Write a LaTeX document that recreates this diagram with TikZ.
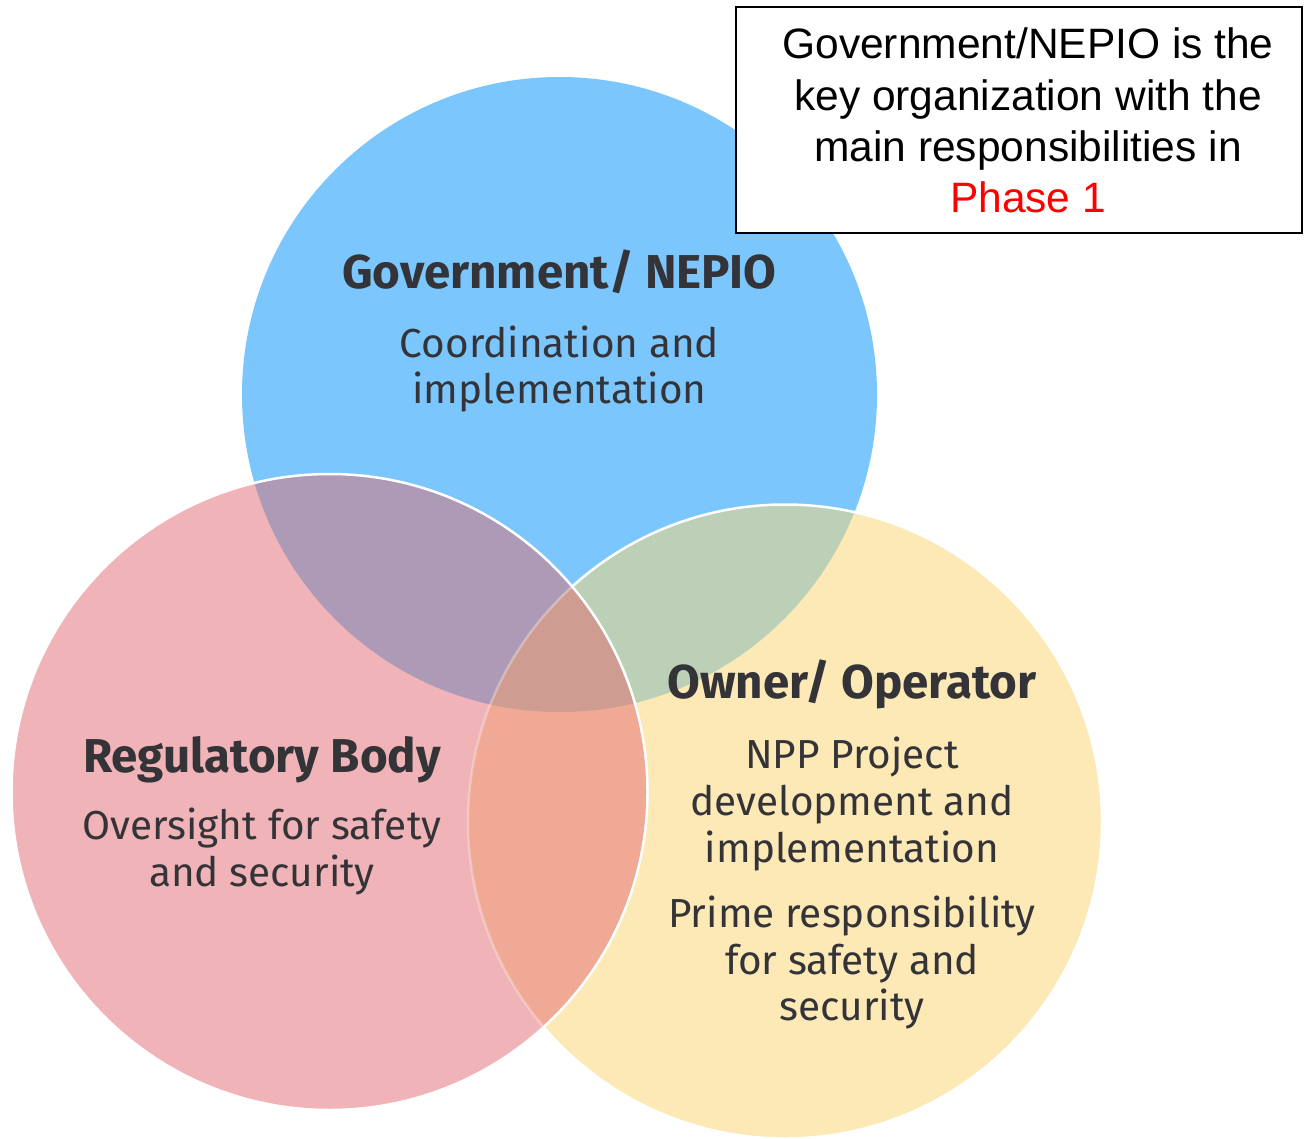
\documentclass[tikz,border=0pt]{standalone}
\usepackage{fontspec}
\setmainfont{Fira Sans}
\newfontfamily\arialf{Liberation Sans}
\definecolor{cblue}{HTML}{7BC6FD}
\definecolor{cpink}{HTML}{F0B4B8}
\definecolor{cyel}{HTML}{FDE9B5}
\definecolor{cpurp}{HTML}{AC9AB6}
\definecolor{cgreen}{HTML}{BCD0B8}
\definecolor{corange}{HTML}{F0A994}
\definecolor{ctriple}{HTML}{CE9C91}
\definecolor{ctext}{HTML}{333338}
\definecolor{cred}{HTML}{FF0000}
\tikzset{
  title/.style={font=\fontsize{47.5}{47}\selectfont\bfseries, text=ctext, anchor=base, inner sep=0pt},
  body/.style={font=\fontsize{40.5}{47}\selectfont, text=ctext, anchor=base, inner sep=0pt},
  boxtxt/.style={font=\arialf\fontsize{42.5}{51}\selectfont, anchor=base, inner sep=0pt},
  outline/.style={draw=white, line width=2.5pt}
}
\def\Bc{(559.5,394.5) circle (317.5)}
\def\Pc{(329.5,792) circle (318)}
\def\Yc{(785,821.5) circle (317)}
\begin{document}
\begin{tikzpicture}[x=1pt,y=-1pt]
\useasboundingbox (0,0) rectangle (1304,1138);
\fill[white] (0,0) rectangle (1304,1138);
% base fills
\fill[cblue] \Bc;
\fill[cyel] \Yc;
\fill[cpink] \Pc;
\begin{scope}\clip \Bc; \fill[cgreen] \Yc; \fill[cpurp] \Pc; \end{scope}
\begin{scope}\clip \Yc; \fill[corange] \Pc; \end{scope}
\begin{scope}\clip \Bc; \clip \Yc; \fill[ctriple] \Pc; \end{scope}
% outlines
\begin{scope}[even odd rule]\clip (-10,-10) rectangle (1314,1148) \Pc; \draw[outline] \Yc; \end{scope}
\begin{scope}\clip \Pc; \draw[outline, draw opacity=0.3] \Yc; \end{scope}
\draw[outline] \Pc;
% texts in circles
\node[title] (gtitle) at (559.5,288) {Government/ NEPIO};
\node[body] (g1) at (559.5,357) {Coordination and};
\node[body] (g2) at (559.5,403) {implementation};
\node[title] (rtitle) at (262,772) {Regulatory Body};
\node[body] (r1) at (262,839) {Oversight for safety};
\node[body] (r2) at (262,886) {and security};
\node[title] (otitle) at (852,698) {Owner/ Operator};
\node[body] (o1) at (852,768) {NPP Project};
\node[body] (o2) at (852,815) {development and};
\node[body] (o3) at (852,862) {implementation};
\node[body] (o4) at (852,927) {Prime responsibility};
\node[body] (o5) at (852,974) {for safety and};
\node[body] (o6) at (852,1020) {security};
% callout box
\draw[line width=2pt, fill=white] (736,7) rectangle (1302,233);
\node[boxtxt] (b1) at (1028,58) {Government/NEPIO is the};
\node[boxtxt] (b2) at (1028,110) {key organization with the};
\node[boxtxt] (b3) at (1028,161) {main responsibilities in};
\node[boxtxt, text=cred] (b4) at (1028,212) {Phase 1};
\end{tikzpicture}
\end{document}
